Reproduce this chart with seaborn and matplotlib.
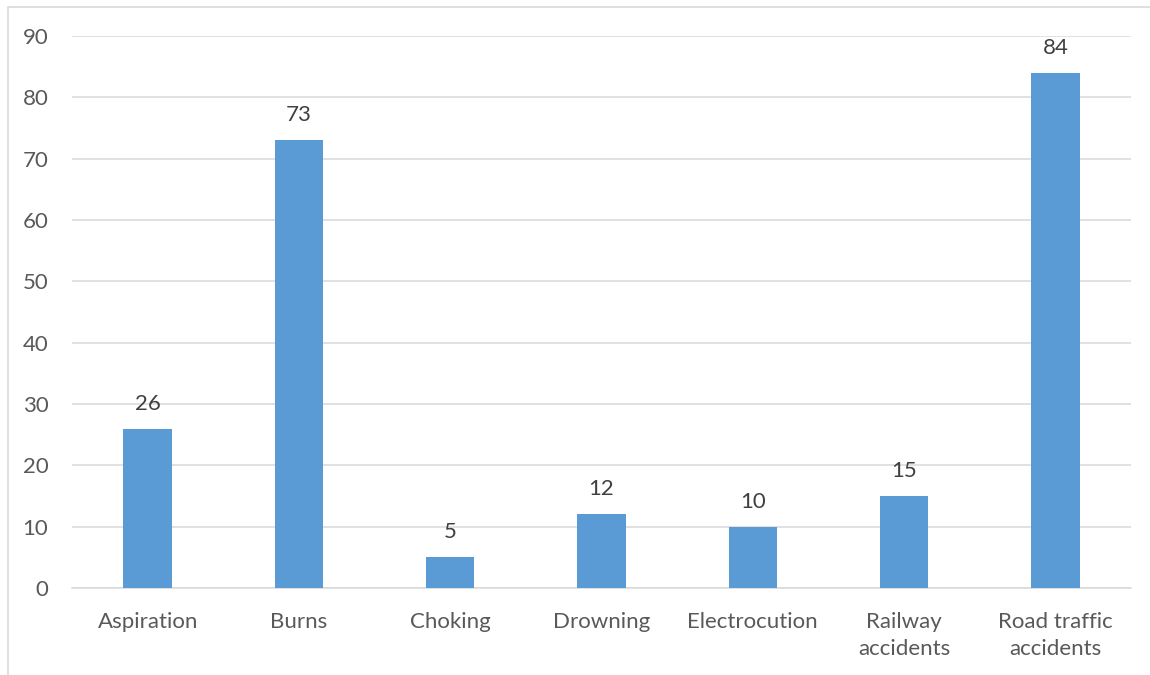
import matplotlib
matplotlib.use("Agg")
import matplotlib.pyplot as plt
import seaborn as sns
import pandas as pd
from matplotlib.patches import Rectangle

categories = ["Aspiration", "Burns", "Choking", "Drowning", "Electrocution",
              "Railway\naccidents", "Road traffic\naccidents"]
counts = [26, 73, 5, 12, 10, 15, 84]
yticks = [0, 10, 20, 30, 40, 50, 60, 70, 80, 90]

bar_color = "#5B9BD5"
text_color = "#595959"
grid_color = "#D9D9D9"

sns.set_theme(style="white")
plt.rcParams["font.family"] = ["Lato", "DejaVu Sans"]

df = pd.DataFrame({"category": categories, "count": counts})

fig = plt.figure(figsize=(11.5, 6.75), dpi=100)
ax = fig.add_axes([72 / 1150, 1 - 588 / 675, (1131 - 72) / 1150, (588 - 36) / 675])

# chart frame (left and top edges visible)
fig.patches.append(Rectangle((8 / 1150, -0.1), 1.2, 1 - 7 / 675 + 0.1,
                             transform=fig.transFigure, fill=False,
                             edgecolor=grid_color, linewidth=1.2, zorder=0))

sns.barplot(data=df, x="category", y="count", color=bar_color, saturation=1,
            width=0.32, ax=ax, zorder=3, linewidth=0)

ax.set_ylim(0, 90)
ax.set_xlim(-0.5, len(categories) - 0.5)
ax.set_yticks(yticks)
ax.yaxis.grid(True, color=grid_color, linewidth=1.1, zorder=0)
ax.set_axisbelow(True)
for side in ["top", "right", "left"]:
    ax.spines[side].set_visible(False)
ax.spines["bottom"].set_color(grid_color)
ax.spines["bottom"].set_linewidth(1.1)
ax.set_xlabel("")
ax.set_ylabel("")
ax.tick_params(axis="y", length=0, pad=17, labelsize=16, labelcolor=text_color)
ax.tick_params(axis="x", length=0, pad=17, labelsize=16, labelcolor=text_color)
for lbl in ax.get_xticklabels():
    lbl.set_linespacing(1.45)

for i, v in enumerate(counts):
    ax.annotate(str(v), (i, v), xytext=(0, 18), textcoords="offset points",
                ha="center", va="center", fontsize=16, color="#404040")

fig.savefig("out.png", dpi=100, facecolor="white")
